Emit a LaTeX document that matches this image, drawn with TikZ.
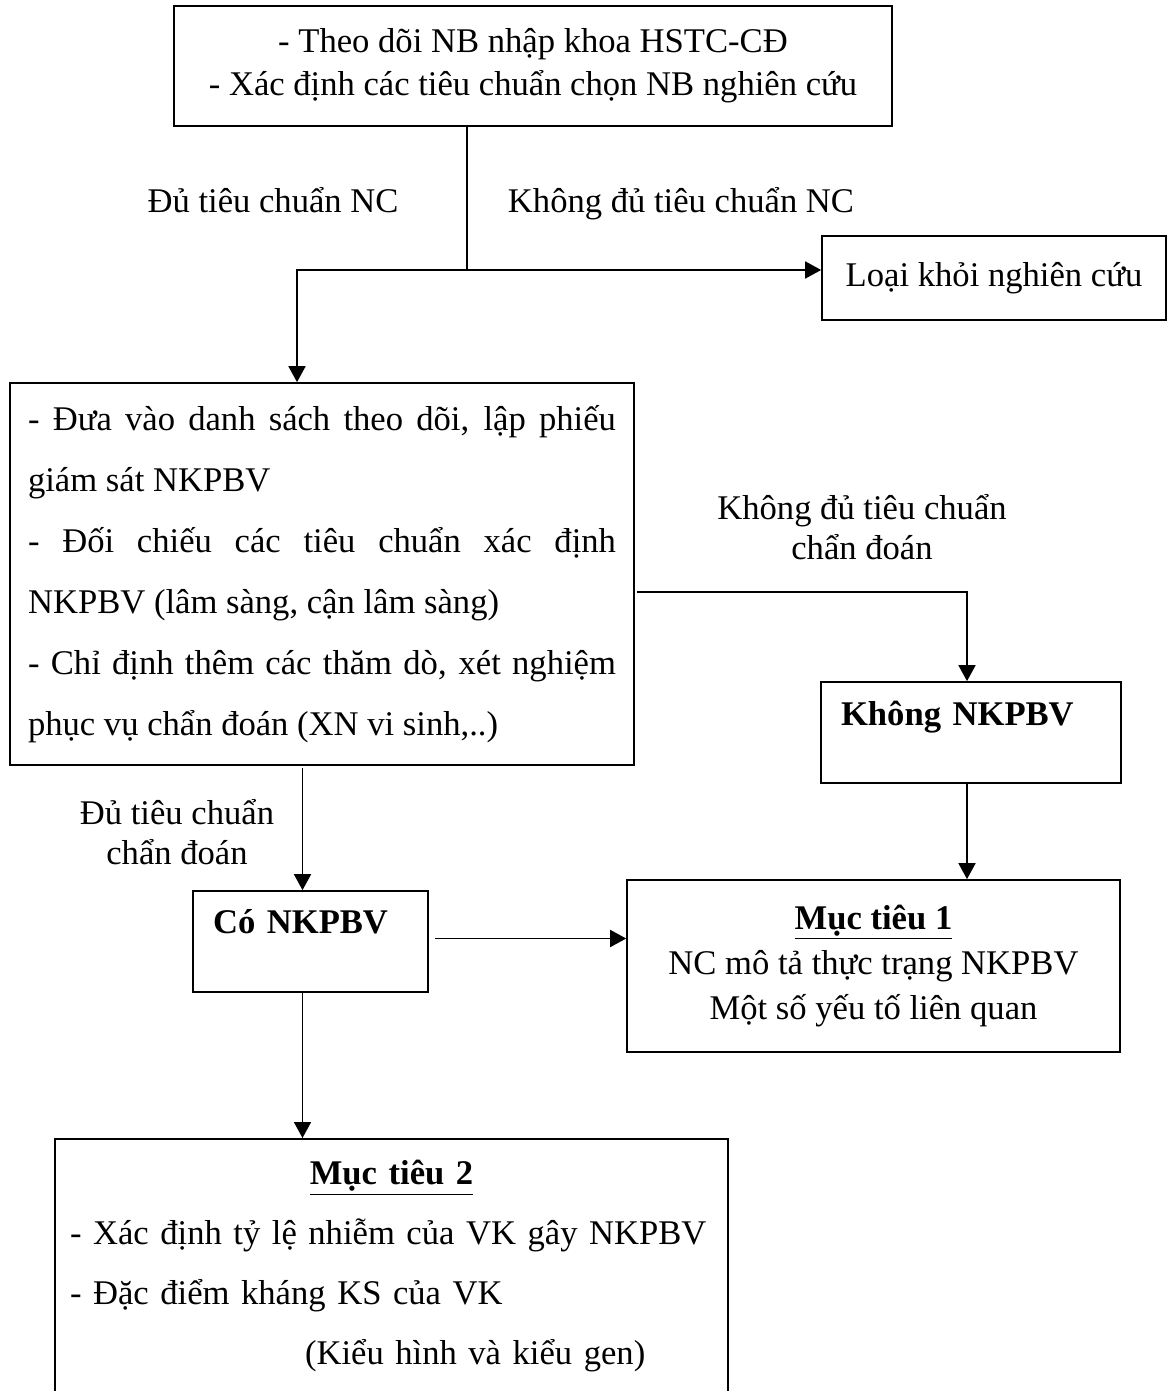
\documentclass[tikz,border=0pt]{standalone}
\usepackage{fontspec}
\setmainfont{Liberation Serif}
\usepackage{tikz}
\usetikzlibrary{arrows.meta}

\begin{document}
\begin{tikzpicture}[x=0.02cm, y=-0.02cm, line width=1pt,
    >={Triangle[length=0.32cm,width=0.34cm]},
    main/.style = {draw, inner sep=0pt, font=\fontsize{19.7}{24.5}\selectfont},
    lbl/.style = {inner sep=0pt, align=center, font=\fontsize{19.7}{22.8}\selectfont}]
    \useasboundingbox (0,0) rectangle (1168,1391);
    \node[main, minimum width=14.36cm, minimum height=2.4cm, align=center] (top) at (533,66)
        {- Theo dõi NB nhập khoa HSTC-CĐ\\- Xác định các tiêu chuẩn chọn NB nghiên cứu};
    \node[main, minimum width=6.88cm, minimum height=1.68cm] (loai) at (994,278) {Loại khỏi nghiên cứu};
    \node[main, minimum width=12.48cm, minimum height=7.64cm, text width=11.76cm, align=justify,
        font=\fontsize{19.7}{34.7}\selectfont] (theodoi) at (322,574)
        {- Đưa vào danh sách theo dõi, lập phiếu\linebreak giám sát NKPBV\par
         - Đối chiếu các tiêu chuẩn xác định\linebreak NKPBV (lâm sàng, cận lâm sàng)\par
         - Chỉ định thêm các thăm dò, xét nghiệm\linebreak phục vụ chẩn đoán (XN vi sinh,..)};
    \node[main, text width=5.2cm, inner xsep=0.4cm, text height=0.86cm, text depth=1.16cm,
        font=\fontsize{19.7}{24.5}\selectfont\bfseries] (khong) at (971,732.5) {Không NKPBV};
    \node[main, text width=3.9cm, inner xsep=0.4cm, text height=0.84cm, text depth=1.18cm,
        font=\fontsize{19.7}{24.5}\selectfont\bfseries] (co) at (310.5,941.5) {Có NKPBV};
    \node[main, minimum width=9.86cm, minimum height=3.44cm, align=center,
        font=\fontsize{19.7}{25.6}\selectfont] (muc1) at (873.5,966)
        {\textbf{\underline{Mục tiêu 1}}\\NC mô tả thực trạng NKPBV\\Một số yếu tố liên quan};
    \node[main, minimum width=13.46cm, text width=12.86cm, text height=0.72cm, inner ysep=0.2cm,
        anchor=north, font=\fontsize{19.7}{34.1}\selectfont] (muc2) at (391.5,1138)
        {\centering\textbf{\underline{Mục tiêu 2}}\par
         \raggedright - Xác định tỷ lệ nhiễm của VK gây NKPBV\par
         - Đặc điểm kháng KS của VK\par
         \hspace*{4.7cm}(Kiểu hình và kiểu gen)\par
         \rule{0pt}{1.2cm}};
    % nhan tren cac nhanh
    \node[lbl] (du) at (273,200) {Đủ tiêu chuẩn NC};
    \node[lbl] (kdu) at (681,204) {Không đủ tiêu chuẩn NC};
    \node[lbl] (kcd) at (862,527) {Không đủ tiêu chuẩn\\chẩn đoán};
    \node[lbl] (dcd) at (177,832) {Đủ tiêu chuẩn\\chẩn đoán};
    \coordinate (j) at (467,270);
    \coordinate (jl) at (297,270);
    \draw (top.south -| j) -- (j);
    \draw[->] (j) -- (j -| loai.west);
    \draw[->] (j) -- (jl) -- (jl |- theodoi.north);
    \draw[->] ([xshift=0.04cm,yshift=-0.36cm]theodoi.east) -| ([xshift=-0.08cm]khong.north);
    \draw[->] ([xshift=-0.08cm]khong.south) -- ([xshift=-0.08cm]khong.south |- muc1.north);
    \draw[->] ([xshift=-0.16cm,yshift=-0.04cm]theodoi.south -| co.north) -- ([xshift=-0.16cm]co.north);
    \draw[->] ([xshift=0.12cm,yshift=0.06cm]co.east) -- ([yshift=0.06cm]co.east -| muc1.west);
    \draw[->] ([xshift=-0.16cm]co.south) -- ([xshift=-0.16cm]co.south |- muc2.north);
\end{tikzpicture}
\end{document}
